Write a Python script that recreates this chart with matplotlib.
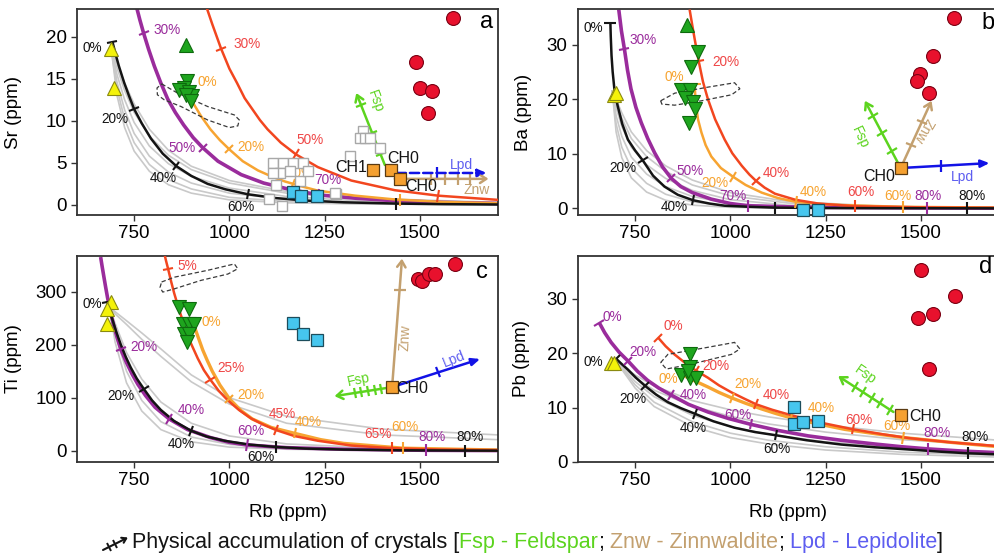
import numpy as np
import matplotlib.pyplot as plt
from matplotlib.markers import MarkerStyle
from matplotlib.transforms import Affine2D

plt.rcParams['font.family'] = ['Liberation Sans', 'DejaVu Sans']

# colours
BLACK = '#141414'
PURPLE = '#9a2c9c'
ORANGE = '#f7a431'
RED = '#f2461f'
RED_T = '#ef4747'
GREY = '#c9c9c9'
FSP = '#5cd41e'
ZNW = '#c3a06f'
LPD = '#1212e6'
LPD_T = '#5d5df0'

XLIM = (600, 1705)
XTICKS = [750, 1000, 1250, 1500]

# ---------------- panel a : Sr ----------------
a_black_rb = [693, 697, 702, 710, 724, 737, 750, 770, 794, 825, 861, 900, 943, 990, 1048,
              1120, 1200, 1300, 1438, 1560, 1705]
a_black_y = [19.4, 18.7, 17.8, 16.5, 14.5, 12.9, 11.4, 9.7, 7.9, 6.1, 4.6, 3.45, 2.5, 1.85,
             1.27, 0.82, 0.52, 0.31, 0.16, 0.09, 0.05]
a_purple_rb = [757, 765, 775, 788, 803, 820, 838, 858, 880, 905, 930, 970, 1031, 1090, 1153,
               1232, 1330, 1434, 1560, 1705]
a_purple_y = [23.4, 22.0, 20.4, 18.5, 16.5, 14.5, 12.6, 11.0, 9.5, 8.0, 6.8, 5.2, 3.6, 2.6,
              1.9, 1.2, 0.8, 0.5, 0.3, 0.17]
a_orange_rb = [905, 925, 950, 975, 1000, 1035, 1075, 1110, 1145, 1190, 1232, 1330, 1434, 1560, 1705]
a_orange_y = [12.1, 10.6, 9.0, 7.7, 6.6, 5.2, 4.1, 3.4, 2.8, 2.2, 1.7, 1.1, 0.65, 0.35, 0.2]
a_red_rb = [940, 955, 978, 1000, 1020, 1040, 1060, 1080, 1100, 1135, 1175, 1232, 1320, 1434,
            1548, 1705]
a_red_y = [23.5, 21.5, 18.6, 16.2, 14.5, 12.7, 11.4, 10.1, 9.0, 7.4, 6.0, 4.5, 2.9, 1.75,
           1.1, 0.6]
a_black_ticks = [(693, 19.4), (750, 11.4), (861, 4.6), (1048, 1.27), (1438, 0.16)]
a_purple_ticks = [(775, 20.4), (930, 6.8), (1232, 1.2)]
a_orange_ticks = [(1000, 6.6), (1166, 2.5), (1447, 0.6)]
a_red_ticks = [(978, 18.6), (1175, 6.0), (1548, 1.1)]
a_grey_rb = [690, 705, 725, 750, 790, 840, 900, 1000, 1150, 1350, 1705]
a_grey_y = [
    [18.5, 16.3, 13.6, 11.0, 8.2, 5.9, 4.2, 2.6, 1.4, 0.7, 0.25],
    [18.5, 15.5, 12.5, 9.8, 7.0, 4.9, 3.4, 2.0, 1.0, 0.45, 0.15],
    [18.5, 14.6, 11.3, 8.5, 5.8, 3.9, 2.6, 1.4, 0.65, 0.25, 0.08],
    [18.5, 13.8, 10.2, 7.4, 4.8, 3.0, 1.9, 0.9, 0.4, 0.15, 0.05],
    [18.5, 13.0, 9.2, 6.4, 4.0, 2.4, 1.4, 0.6, 0.25, 0.1, 0.03],
    [18.5, 16.8, 14.5, 12.0, 9.0, 6.5, 4.6, 2.9, 1.6, 0.8, 0.3],
]
a_field_rb = [822, 864, 943, 1013, 1026, 1022, 1000, 943, 873, 829, 811, 810, 822]
a_field_y = [14.4, 13.3, 11.7, 10.7, 10.1, 9.4, 9.2, 10.1, 11.7, 12.5, 13.1, 13.9, 14.4]
a_yellow_rb, a_yellow_y = [690, 696], [18.6, 13.9]
a_gup_rb, a_gup_y = [886], [19.0]
a_gdn_rb = [890, 882, 868, 895, 903, 886, 899]
a_gdn_y = [14.7, 13.9, 13.7, 13.4, 12.9, 13.1, 12.3]
a_cyan_rb, a_cyan_y = [1166, 1189, 1229], [1.5, 1.1, 1.1]
a_ch_rb, a_ch_y = [1377, 1424, 1447], [4.1, 4.2, 3.1]
a_rdot_rb = [1588, 1491, 1500, 1533, 1520]
a_rdot_y = [22.2, 17.0, 13.9, 13.5, 10.9]
a_open_rb = [1114, 1140, 1166, 1193, 1132, 1158, 1184, 1114, 1103, 1139,
             1281, 1316, 1351, 1342, 1355, 1368, 1395, 1123, 1206, 1276]
a_open_y = [4.95, 4.95, 4.95, 4.95, 3.8, 4.0, 2.8, 3.8, 0.76, -0.1,
            1.3, 5.8, 8.8, 7.9, 7.9, 7.9, 6.8, 2.4, 4.0, 1.4]
a_pct = [("0%", 640, 18.7, BLACK), ("20%", 699, 10.2, BLACK), ("40%", 827, 3.2, BLACK),
         ("60%", 1031, -0.2, BLACK), ("30%", 836, 20.8, PURPLE), ("50%", 877, 6.8, PURPLE),
         ("70%", 1259, 3.0, PURPLE), ("0%", 942, 14.6, ORANGE), ("20%", 1057, 6.9, ORANGE),
         ("40%", 1186, 3.8, ORANGE), ("30%", 1046, 19.1, RED_T), ("50%", 1211, 7.7, RED_T)]
a_notes = [("CH1", 1320, 4.4, BLACK, 0), ("CH0", 1455, 5.5, BLACK, 0), ("CH0", 1504, 2.2, BLACK, 0),
           ("Fsp", 1383, 12.3, FSP, -70), ("Lpd", 1610, 4.75, LPD_T, 0), ("Znw", 1649, 1.8, ZNW, 0)]
a_vectors = [((1408, 4.75), (1333, 13.3), FSP, '-', [(1345, 11.9), (1375, 8.5), (1397, 6.0)]),
             ((1434, 3.1), (1680, 3.1), ZNW, '-', [(1530, 3.1), (1566, 3.1), (1600, 3.1), (1632, 3.1)]),
             ((1439, 3.8), (1675, 3.8), LPD, '--', [(1546, 3.8)])]

# ---------------- panel b : Ba ----------------
b_black_rb = [685, 686, 688, 691, 696, 704, 716, 731, 750, 770, 797, 827, 862, 902, 945, 985,
              1050, 1117, 1250, 1400, 1705]
b_black_y = [33.9, 31.5, 28.0, 25.0, 21.5, 18.8, 15.5, 12.6, 10.6, 8.8, 6.0, 4.0, 2.5, 1.5,
             0.9, 0.5, 0.3, 0.15, 0.08, 0.05, 0.02]
b_purple_rb = [707, 714, 722, 730, 739, 752, 766, 783, 801, 822, 845, 870, 900, 950, 1000,
               1045, 1150, 1250, 1517, 1705]
b_purple_y = [36.4, 32.5, 29.1, 25.3, 21.9, 18.5, 15.7, 12.8, 10.2, 7.6, 5.5, 4.0, 2.9, 1.7,
              0.9, 0.5, 0.3, 0.2, 0.1, 0.05]
b_orange_rb = [906, 908, 910, 915, 924, 935, 950, 975, 1007, 1040, 1082, 1125, 1173, 1240,
               1300, 1453, 1705]
b_orange_y = [22.7, 20.5, 18.8, 16.3, 13.9, 11.6, 9.5, 7.4, 5.8, 4.3, 2.9, 1.9, 1.2, 0.8,
              0.6, 0.3, 0.15]
b_red_rb = [893, 900, 906, 912, 917, 928, 941, 960, 985, 1005, 1030, 1050, 1068, 1090, 1117,
            1170, 1230, 1328, 1500, 1705]
b_red_y = [36.4, 33.5, 31.1, 28.8, 26.9, 23.2, 20.0, 16.3, 12.6, 10.1, 7.8, 6.2, 5.0, 3.8,
           2.7, 1.6, 0.9, 0.4, 0.2, 0.1]
b_black_ticks = [(685, 33.9), (770, 8.8), (902, 1.5), (1117, 0.15), (1620, 0.03)]
b_purple_ticks = [(722, 29.1), (845, 5.5), (1045, 0.5), (1517, 0.1)]
b_orange_ticks = [(906, 22.7), (1007, 5.8), (1173, 1.2), (1453, 0.3)]
b_red_ticks = [(917, 26.9), (1068, 5.0), (1328, 0.4)]
b_grey_rb = [690, 700, 715, 740, 780, 830, 900, 1000, 1150, 1400, 1705]
b_grey_y = [
    [21.5, 19.5, 16.5, 12.8, 9.5, 6.8, 4.3, 2.3, 1.0, 0.3, 0.1],
    [21.5, 18.5, 15.0, 11.2, 8.0, 5.5, 3.3, 1.6, 0.6, 0.2, 0.05],
    [21.5, 17.0, 13.2, 9.4, 6.3, 4.0, 2.2, 0.9, 0.3, 0.1, 0.03],
    [21.5, 15.5, 11.2, 7.4, 4.6, 2.6, 1.2, 0.4, 0.1, 0.05, 0.02],
    [21.5, 14.0, 9.3, 5.6, 3.0, 1.5, 0.6, 0.2, 0.05, 0.02, 0.01],
    [21.5, 20.0, 17.5, 14.0, 10.6, 7.8, 5.2, 2.9, 1.3, 0.4, 0.1],
]
b_field_rb = [817, 854, 941, 1011, 1025, 1003, 924, 854, 820, 817]
b_field_y = [19.7, 21.1, 22.2, 23.0, 21.9, 20.8, 19.7, 18.9, 19.1, 19.7]
b_yellow_rb, b_yellow_y = [694, 700], [20.8, 21.1]
b_gup_rb, b_gup_y = [887], [33.6]
b_gdn_rb = [915, 897, 871, 893, 880, 902, 906, 891]
b_gdn_y = [28.6, 25.9, 21.6, 21.6, 20.3, 19.4, 18.2, 15.7]
b_cyan_rb, b_cyan_y = [1190, 1230], [-0.3, -0.3]
b_ch_rb, b_ch_y = [1447], [7.4]
b_rdot_rb = [1588, 1532, 1499, 1491, 1521]
b_rdot_y = [34.8, 27.9, 24.6, 23.4, 21.1]
b_pct = [("0%", 641, 33.1, BLACK), ("20%", 718, 7.4, BLACK), ("40%", 853, 0.3, BLACK),
         ("80%", 1633, 2.3, BLACK), ("30%", 770, 30.8, PURPLE), ("50%", 893, 6.8, PURPLE),
         ("70%", 1007, 2.2, PURPLE), ("80%", 1519, 2.2, PURPLE), ("0%", 852, 24.0, ORANGE),
         ("20%", 959, 4.6, ORANGE), ("40%", 1217, 3.1, ORANGE), ("60%", 1440, 2.2, ORANGE),
         ("20%", 989, 26.8, RED_T), ("40%", 1121, 6.5, RED_T), ("60%", 1342, 3.1, RED_T)]
b_notes = [("CH0", 1390, 5.9, BLACK, 0), ("Fsp", 1340, 12.9, FSP, -65),
           ("Znw", 1506, 14.2, ZNW, -120), ("Lpd", 1610, 5.7, LPD_T, 0)]
b_vectors = [((1447, 7.4), (1353, 19.7), FSP, '-', [(1374, 17.0), (1398, 13.8), (1423, 10.5)]),
             ((1447, 7.4), (1528, 19.7), ZNW, '-', [(1475, 11.7), (1502, 15.8)]),
             ((1447, 7.4), (1680, 8.3), LPD, '-', [(1552, 7.8)])]

# ---------------- panel c : Ti ----------------
c_black_rb = [680, 686, 693, 703, 715, 728, 741, 757, 775, 797, 820, 855, 899, 940, 987, 1050,
              1121, 1200, 1300, 1450, 1618, 1705]
c_black_y = [280, 262, 247, 224, 200, 177, 157, 136, 117, 95, 77, 56, 38, 27, 19, 12,
             7.3, 4.3, 2.4, 1.0, 0.5, 0.3]
c_purple_rb = [662, 666, 670, 675, 680, 687, 695, 705, 715, 730, 745, 760, 780, 805, 842, 890,
               950, 1000, 1046, 1150, 1300, 1517, 1705]
c_purple_y = [365, 347, 330, 309, 289, 264, 240, 214, 191, 166, 144, 125, 104, 82, 60, 40,
              25, 16, 11, 6, 3, 1, 0.5]
c_orange_rb = [910, 920, 930, 942, 955, 975, 1000, 1030, 1060, 1110, 1171, 1240, 1300, 1456, 1705]
c_orange_y = [230, 210, 190, 170, 150, 124, 98, 76, 60, 44, 33, 21, 14, 5, 1.5]
c_red_rb = [829, 834, 839, 847, 855, 867, 882, 898, 917, 933, 950, 972, 996, 1025, 1057, 1090,
            1123, 1170, 1232, 1320, 1427, 1550, 1705]
c_red_y = [372, 357, 343, 319, 297, 268, 235, 204, 174, 152, 134, 113, 95, 77, 61, 49,
           39, 28, 19, 10, 5, 2.5, 1.2]
c_black_ticks = [(680, 280), (775, 117), (899, 38), (1121, 7.3), (1618, 0.5)]
c_purple_ticks = [(715, 191), (842, 60), (1046, 11), (1517, 1)]
c_orange_ticks = [(1000, 98), (1171, 33), (1456, 5)]
c_red_ticks = [(839, 343), (950, 134), (1123, 39), (1427, 5)]
c_grey_rb = [685, 700, 730, 770, 820, 900, 1000, 1150, 1400, 1705]
c_grey_y = [
    [270, 262, 245, 222, 192, 143, 100, 65, 41, 30],
    [270, 258, 238, 210, 178, 130, 88, 52, 30, 21],
    [270, 240, 185, 135, 92, 52, 28, 13, 5, 3],
    [270, 220, 150, 95, 55, 26, 12, 5, 2, 1],
    [270, 205, 128, 75, 40, 17, 7, 3, 1, 0.5],
]
c_field_rb = [822, 855, 943, 1013, 1022, 996, 925, 855, 825, 818, 822]
c_field_y = [318, 327, 340, 352, 343, 333, 321, 305, 299, 308, 318]
c_yellow_rb, c_yellow_y = [689, 680, 678], [281, 268, 239]
c_gdn_rb = [868, 895, 877, 895, 908, 882, 895, 890]
c_gdn_y = [271, 267, 239, 239, 239, 220, 220, 205]
c_cyan_rb, c_cyan_y = [1167, 1193, 1231], [241, 220, 208]
c_ch_rb, c_ch_y = [1427], [120]
c_rdot_rb = [1494, 1506, 1524, 1539, 1592]
c_rdot_y = [323, 319, 333, 333, 352]
c_pct = [("0%", 640, 277, BLACK), ("20%", 715, 103, BLACK), ("40%", 873, 12, BLACK),
         ("60%", 1083, -12, BLACK), ("80%", 1632, 26, BLACK), ("20%", 776, 195, PURPLE),
         ("40%", 899, 76, PURPLE), ("60%", 1057, 38, PURPLE), ("80%", 1531, 26, PURPLE),
         ("0%", 952, 242, ORANGE), ("20%", 1057, 105, ORANGE), ("40%", 1206, 54, ORANGE),
         ("60%", 1460, 45, ORANGE), ("5%", 890, 349, RED_T), ("25%", 1004, 156, RED_T),
         ("45%", 1140, 70, RED_T), ("65%", 1390, 32, RED_T)]
c_notes = [("CH0", 1480, 118, BLACK, 0), ("Znw", 1462, 214, ZNW, 87),
           ("Lpd", 1590, 172, LPD_T, 22), ("Fsp", 1338, 134, FSP, 12)]
c_vectors = [((1427, 120), (1453, 362), ZNW, '-', [(1447, 302)]),
             ((1427, 120), (1658, 173), LPD, '-', [(1548, 148)]),
             ((1427, 120), (1276, 103), FSP, '-',
              [(1399, 116.8), (1382, 114.9), (1364, 112.9), (1346, 110.9), (1329, 109.0)])]

# ---------------- panel d : Pb ----------------
d_black_rb = [700, 715, 731, 752, 776, 805, 836, 870, 906, 955, 1011, 1065, 1121, 1200, 1292,
              1380, 1468, 1550, 1623, 1705]
d_black_y = [19.0, 18.0, 17.0, 15.5, 14.0, 12.4, 11.0, 9.9, 8.9, 7.5, 6.3, 5.5, 4.9, 4.0,
             3.2, 2.7, 2.3, 1.9, 1.6, 1.4]
d_purple_rb = [656, 670, 687, 708, 731, 756, 783, 812, 845, 890, 941, 995, 1055, 1125, 1204,
               1290, 1380, 1450, 1520, 1610, 1705]
d_purple_y = [25.6, 23.8, 22.0, 20.2, 18.6, 16.7, 15.0, 13.6, 12.3, 10.6, 9.2, 8.0, 6.9,
              5.8, 4.8, 4.0, 3.3, 2.8, 2.4, 2.0, 1.7]
d_orange_rb = [880, 910, 941, 970, 1003, 1040, 1080, 1120, 1160, 1230, 1300, 1380, 1454, 1580, 1705]
d_orange_y = [15.8, 14.8, 13.8, 12.8, 11.8, 10.8, 9.8, 8.9, 8.1, 7.0, 6.0, 5.2, 4.5, 3.6, 2.8]
d_red_rb = [810, 830, 853, 880, 910, 941, 970, 1003, 1035, 1068, 1110, 1160, 1240, 1323, 1400,
            1468, 1580, 1705]
d_red_y = [22.9, 21.3, 19.8, 18.3, 16.8, 15.5, 14.1, 12.8, 11.7, 10.6, 9.6, 8.6, 7.2, 6.0,
           5.1, 4.4, 3.6, 2.9]
d_black_ticks = [(700, 19.0), (776, 14.0), (906, 8.9), (1121, 4.9), (1623, 1.6)]
d_purple_ticks = [(656, 25.6), (731, 18.6), (845, 12.3), (1055, 6.9), (1520, 2.4)]
d_orange_ticks = [(1003, 11.8), (1160, 8.1), (1454, 4.5)]
d_red_ticks = [(810, 22.9), (910, 16.8), (1068, 10.6), (1323, 6.0)]
d_grey_rb = [700, 750, 800, 900, 1000, 1100, 1250, 1450, 1705]
d_grey_y = [
    [18.5, 16.0, 14.0, 11.3, 9.6, 8.3, 6.8, 5.3, 4.0],
    [18.5, 15.5, 13.2, 10.3, 8.4, 7.0, 5.5, 4.1, 3.0],
    [18.5, 14.8, 12.0, 8.6, 6.5, 5.1, 3.7, 2.6, 1.8],
    [18.5, 14.2, 11.0, 7.4, 5.3, 4.0, 2.8, 1.8, 1.2],
    [18.5, 13.6, 10.2, 6.5, 4.5, 3.3, 2.2, 1.4, 0.9],
]
d_field_rb = [817, 836, 941, 1011, 1025, 1003, 897, 832, 817]
d_field_y = [18.3, 19.8, 21.1, 22.0, 20.8, 19.8, 18.0, 17.1, 18.3]
d_yellow_rb, d_yellow_y = [687, 694], [18.3, 18.3]
d_gdn_rb = [893, 893, 871, 893, 911, 889]
d_gdn_y = [19.8, 17.4, 16.0, 15.5, 15.5, 16.8]
d_cyan_rb, d_cyan_y = [1168, 1166, 1191, 1231], [10.1, 6.9, 7.3, 7.5]
d_ch_rb, d_ch_y = [1448], [8.6]
d_rdot_rb = [1501, 1589, 1492, 1533, 1522]
d_rdot_y = [35.4, 30.6, 26.5, 27.2, 17.1]
d_pct = [("0%", 639, 18.4, BLACK), ("20%", 744, 11.5, BLACK), ("40%", 902, 6.3, BLACK),
         ("60%", 1121, 2.3, BLACK), ("80%", 1643, 4.6, BLACK), ("0%", 691, 26.6, PURPLE),
         ("20%", 770, 20.3, PURPLE), ("40%", 902, 12.4, PURPLE), ("60%", 1020, 8.7, PURPLE),
         ("80%", 1542, 5.4, PURPLE), ("0%", 836, 15.2, ORANGE), ("20%", 1046, 14.3, ORANGE),
         ("40%", 1238, 10.0, ORANGE), ("60%", 1437, 6.6, ORANGE), ("0%", 849, 25.1, RED_T),
         ("20%", 963, 17.7, RED_T), ("40%", 1121, 12.3, RED_T), ("60%", 1336, 7.8, RED_T)]
d_notes = [("CH0", 1511, 8.4, BLACK, 0), ("Fsp", 1353, 16.1, FSP, -35)]
d_vectors = [((1428, 9.2), (1283, 15.8), FSP, '-',
              [(1327, 13.8), (1349, 12.8), (1371, 11.8), (1393, 10.8), (1419, 9.6)])]

# marker styles
YELLOW = dict(marker='^', ms=10, mfc='#f4f20a', mec='#8a8a10', mew=0.8)
GUP = dict(marker='^', ms=10, mfc='#1ea51e', mec='#0d6a0d', mew=0.8)
GDN = dict(marker='v', ms=10.5, mfc='#1ea51e', mec='#0d6a0d', mew=0.8)
CYAN = dict(marker='s', ms=8.5, mfc='#46c6ee', mec='#1c4d5c', mew=0.9)
CHSQ = dict(marker='s', ms=8.5, mfc='#f5a030', mec='#5a3a12', mew=0.9)
RDOT = dict(marker='o', ms=10, mfc='#e8112d', mec='#7a0012', mew=0.8)
OPEN = dict(marker='s', ms=7.5, mfc='white', mec='#a8a8a8', mew=1.0)


def tick_marks(ax, rb, y, ticks, color, lw, size):
    pts = ax.transData.transform(np.column_stack([rb, y]))
    for tx, ty in ticks:
        p = ax.transData.transform((tx, ty))
        i = int(np.argmin(np.hypot(pts[:, 0] - p[0], pts[:, 1] - p[1])))
        j0, j1 = max(i - 1, 0), min(i + 1, len(pts) - 1)
        d = pts[j1] - pts[j0]
        ang = np.degrees(np.arctan2(d[1], d[0]))
        m = MarkerStyle('|', transform=Affine2D().rotate_deg(ang))
        ax.plot(tx, ty, marker=m, ms=size, mew=lw, color=color, ls='none', zorder=4.5)


def panel(ax, ylim, yticks, ylabel, ylab_x, letter, letter_xy, grey_rb, grey_y, curves,
          field, pct, notes, vectors, points, xlabel=False):
    ax.set_xlim(*XLIM)
    ax.set_ylim(*ylim)
    ax.set_xticks(XTICKS)
    ax.set_yticks(yticks)
    ax.tick_params(labelsize=13.5, length=4, width=1, color='#333333')
    for s in ax.spines.values():
        s.set_linewidth(1.3)
        s.set_color('#333333')
    ax.set_ylabel(ylabel, fontsize=13.5)
    ax.yaxis.set_label_coords(ylab_x, 0.5)
    if xlabel:
        ax.set_xlabel('Rb (ppm)', fontsize=13.5)
        ax.xaxis.set_label_coords(0.5, -0.205)

    for gy in grey_y:
        ax.plot(grey_rb, gy, color=GREY, lw=1.2, zorder=1)
    for rb, y, col, lw, z, ticks in curves:
        ax.plot(rb, y, color=col, lw=lw, zorder=z, solid_capstyle='butt', solid_joinstyle='round')
        tick_marks(ax, rb, y, ticks, col, 1.5, 8)

    ax.fill(field[0], field[1], facecolor='none', edgecolor='#3a3a3a', lw=0.9,
            ls=(0, (3.5, 2)), zorder=3)

    for s, x, y, c in pct:
        ax.text(x, y, s, color=c, fontsize=9.8, ha='center', va='center', zorder=4)

    for (x0, y0), (x1, y1), col, ls, ticks in vectors:
        head = '-|>,head_length=0.5,head_width=0.22' if col == LPD else '->,head_length=0.45,head_width=0.3'
        ax.annotate('', xy=(x1, y1), xytext=(x0, y0),
                    arrowprops=dict(arrowstyle=head, color=col, lw=1.8, ls=ls,
                                    shrinkA=0, shrinkB=0), zorder=6)
        tick_marks(ax, [x0, x1], [y0, y1], ticks, col, 1.6, 8)

    for rb, y, st in points:
        ax.plot(rb, y, ls='none', zorder=7, clip_on=False, **st)

    for s, x, y, c, rot in notes:
        size = 11.5 if s.startswith('CH') else 10
        ax.text(x, y, s, color=c, fontsize=size, rotation=rot, ha='center', va='center',
                rotation_mode='anchor', zorder=8)
    ax.text(letter_xy[0], letter_xy[1], letter, fontsize=17, ha='center', va='center', zorder=8)


fig = plt.figure(figsize=(9.95, 5.56), dpi=100)
ax_a = fig.add_axes([0.0774, 0.6133, 0.4231, 0.3705])
ax_b = fig.add_axes([0.5809, 0.6133, 0.4231, 0.3705])
ax_c = fig.add_axes([0.0774, 0.1691, 0.4231, 0.3705])
ax_d = fig.add_axes([0.5809, 0.1691, 0.4231, 0.3705])

panel(ax_a, (-1.2, 23.3), [0, 5, 10, 15, 20], 'Sr (ppm)', -0.131, 'a', (1675, 21.8),
      a_grey_rb, a_grey_y,
      [(a_purple_rb, a_purple_y, PURPLE, 2.6, 2, a_purple_ticks),
       (a_orange_rb, a_orange_y, ORANGE, 1.8, 2.5, a_orange_ticks),
       (a_red_rb, a_red_y, RED, 1.8, 3, a_red_ticks),
       (a_black_rb, a_black_y, BLACK, 1.8, 3.5, a_black_ticks)],
      (a_field_rb, a_field_y), a_pct, a_notes, a_vectors,
      [(a_open_rb, a_open_y, OPEN), (a_yellow_rb, a_yellow_y, YELLOW), (a_gup_rb, a_gup_y, GUP),
       (a_gdn_rb, a_gdn_y, GDN), (a_cyan_rb, a_cyan_y, CYAN), (a_ch_rb, a_ch_y, CHSQ),
       (a_rdot_rb, a_rdot_y, RDOT)])

panel(ax_b, (-1.2, 36.5), [0, 10, 20, 30], 'Ba (ppm)', -0.109, 'b', (1676, 33.9),
      b_grey_rb, b_grey_y,
      [(b_purple_rb, b_purple_y, PURPLE, 2.6, 2, b_purple_ticks),
       (b_orange_rb, b_orange_y, ORANGE, 1.8, 2.5, b_orange_ticks),
       (b_red_rb, b_red_y, RED, 1.8, 3, b_red_ticks),
       (b_black_rb, b_black_y, BLACK, 1.8, 3.5, b_black_ticks)],
      (b_field_rb, b_field_y), b_pct, b_notes, b_vectors,
      [(b_yellow_rb, b_yellow_y, YELLOW), (b_gup_rb, b_gup_y, GUP), (b_gdn_rb, b_gdn_y, GDN),
       (b_cyan_rb, b_cyan_y, CYAN), (b_ch_rb, b_ch_y, CHSQ), (b_rdot_rb, b_rdot_y, RDOT)])

panel(ax_c, (-21, 367), [0, 100, 200, 300], 'Ti (ppm)', -0.131, 'c', (1662, 336),
      c_grey_rb, c_grey_y,
      [(c_purple_rb, c_purple_y, PURPLE, 2.6, 2, c_purple_ticks),
       (c_orange_rb, c_orange_y, ORANGE, 2.4, 2.5, c_orange_ticks),
       (c_red_rb, c_red_y, RED, 1.8, 3, c_red_ticks),
       (c_black_rb, c_black_y, BLACK, 1.8, 3.5, c_black_ticks)],
      (c_field_rb, c_field_y), c_pct, c_notes, c_vectors,
      [(c_yellow_rb, c_yellow_y, YELLOW), (c_gdn_rb, c_gdn_y, GDN),
       (c_cyan_rb, c_cyan_y, CYAN), (c_ch_rb, c_ch_y, CHSQ), (c_rdot_rb, c_rdot_y, RDOT)],
      xlabel=True)

panel(ax_d, (0, 37.9), [0, 10, 20, 30], 'Pb (ppm)', -0.114, 'd', (1669, 35.9),
      d_grey_rb, d_grey_y,
      [(d_purple_rb, d_purple_y, PURPLE, 2.6, 2, d_purple_ticks),
       (d_orange_rb, d_orange_y, ORANGE, 2.4, 2.5, d_orange_ticks),
       (d_red_rb, d_red_y, RED, 1.8, 3, d_red_ticks),
       (d_black_rb, d_black_y, BLACK, 1.8, 3.5, d_black_ticks)],
      (d_field_rb, d_field_y), d_pct, d_notes, d_vectors,
      [(d_yellow_rb, d_yellow_y, YELLOW), (d_gdn_rb, d_gdn_y, GDN),
       (d_cyan_rb, d_cyan_y, CYAN), (d_ch_rb, d_ch_y, CHSQ), (d_rdot_rb, d_rdot_y, RDOT)],
      xlabel=True)

# legend line at the bottom
icon = fig.add_axes([0.103, 0.006, 0.026, 0.032])
icon.set_xlim(0, 1)
icon.set_ylim(0, 1)
icon.axis('off')
icon.annotate('', xy=(0.98, 0.85), xytext=(0.02, 0.15),
              arrowprops=dict(arrowstyle='->,head_length=0.3,head_width=0.2', color=BLACK,
                              lw=1.5, shrinkA=0, shrinkB=0))
tick_marks(icon, [0.02, 0.98], [0.15, 0.85], [(0.25, 0.32), (0.5, 0.5)], BLACK, 1.4, 7)

legend_parts = [("Physical accumulation of crystals [", BLACK), ("Fsp - Feldspar", FSP),
                (";", BLACK), (" Znw - Zinnwaldite", ZNW), (";", BLACK),
                (" Lpd - Lepidolite", LPD_T), ("]", BLACK)]
renderer = fig.canvas.get_renderer()
xpos = 0.1327
for s, c in legend_parts:
    t = fig.text(xpos, 0.024, s, color=c, fontsize=15.5, ha='left', va='center')
    xpos += t.get_window_extent(renderer=renderer).width / fig.bbox.width

fig.savefig('out.png', dpi=100)
